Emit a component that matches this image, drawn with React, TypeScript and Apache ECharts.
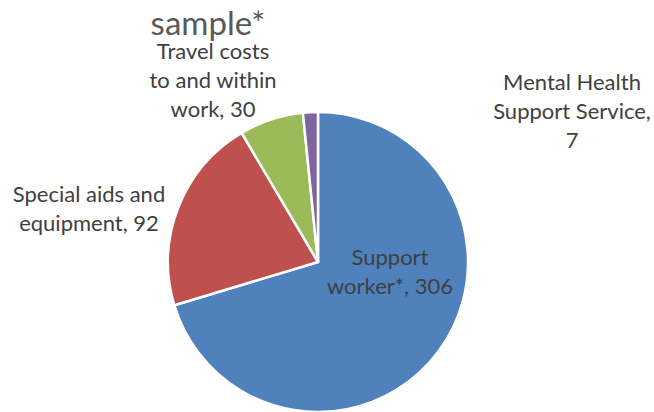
import React, { useEffect, useRef } from "react";
import * as echarts from "echarts";

const categories = [
  "Support worker*",
  "Special aids and equipment",
  "Travel costs to and within work",
  "Mental Health Support Service",
];
const labelLines = [
  ["Support", "worker*, 306"],
  ["Special aids and", "equipment, 92"],
  ["Travel costs", "to and within", "work, 30"],
  ["Mental Health", "Support Service,", "7"],
];
const values = [306, 92, 30, 7];
const colors = ["#4F81BD", "#C0504D", "#9BBB59", "#8064A2"];
const titleText = "sample*";

const labelPos = [
  [390, 271],
  [89, 208],
  [213, 79],
  [572, 110],
];

const FONT = "Lato";

export default function App() {
  const ref = useRef<HTMLDivElement>(null);
  useEffect(() => {
    document.body.style.margin = "0";
    const chart = echarts.init(ref.current!, null, { renderer: "svg" });
    chart.setOption({
      animation: false,
      backgroundColor: "#ffffff",
      graphic: [
        {
          type: "text",
          x: 208,
          y: 38,
          style: {
            text: titleText,
            font: `33px ${FONT}`,
            fill: "#595959",
            textAlign: "center",
            textVerticalAlign: "bottom",
          },
        },
      ],
      series: [
        {
          type: "pie",
          center: [318, 262],
          radius: 150,
          startAngle: 90,
          clockwise: true,
          avoidLabelOverlap: false,
          itemStyle: { borderColor: "#ffffff", borderWidth: 2.5 },
          label: {
            show: true,
            position: "outside",
            color: "#404040",
            fontFamily: FONT,
            fontSize: 22,
            lineHeight: 29,
            align: "center",
            formatter: (p: any) => labelLines[p.dataIndex].join("\n"),
          },
          labelLine: { show: false },
          labelLayout: (p: any) => ({
            x: labelPos[p.dataIndex][0],
            y: labelPos[p.dataIndex][1],
            align: "center",
            verticalAlign: "middle",
          }),
          data: categories.map((c, i) => ({
            name: c,
            value: values[i],
            itemStyle: { color: colors[i] },
          })),
        },
      ],
    });
    return () => chart.dispose();
  }, []);
  return <div ref={ref} style={{ width: 654, height: 412 }} />;
}
